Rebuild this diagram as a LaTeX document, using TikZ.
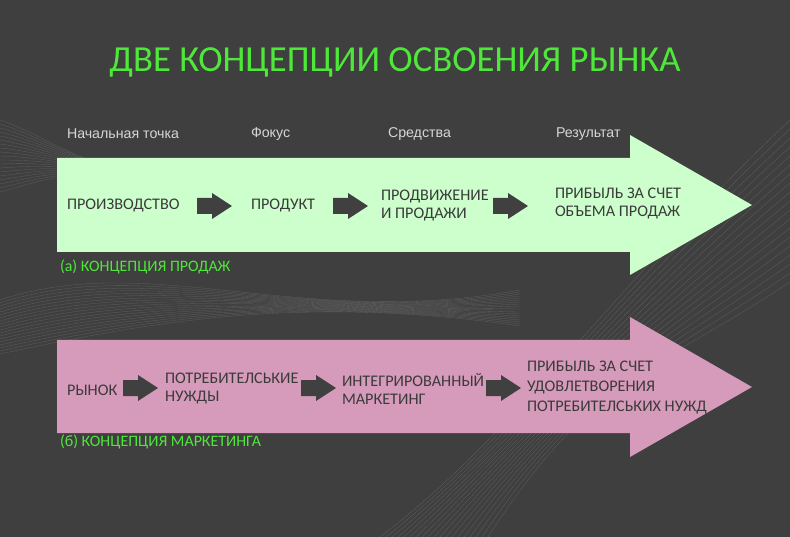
\documentclass[tikz,border=0pt]{standalone}
\usepackage{fontspec}
\setmainfont{Carlito}
\newfontfamily\labfont{Liberation Sans}
\usetikzlibrary{calc}
\definecolor{bgc}{HTML}{3F3F3F}
\definecolor{titleg}{HTML}{4FE83A}
\definecolor{lgreen}{HTML}{CCFFCC}
\definecolor{pinkc}{HTML}{D69BBB}
\definecolor{labgray}{HTML}{D6D6D6}
\definecolor{darkt}{HTML}{3A3A3A}
\definecolor{sarrow}{HTML}{404040}
\begin{document}
\begin{tikzpicture}[x=1pt,y=-1pt,
  inner sep=0pt, outer sep=0pt,
  stage/.style={anchor=west, text=darkt, align=left, font=\fontsize{16.2}{18}\selectfont},
  toplabel/.style={anchor=west, text=labgray, font=\labfont\fontsize{14.2}{16}\selectfont},
  caption/.style={anchor=west, text=titleg, font=\fontsize{15.9}{18}\selectfont},
  smallarrow/.pic={\fill[sarrow] (0,-8) -- (15,-8) -- (15,-13) -- (35,0) -- (15,13) -- (15,8) -- (0,8) -- cycle;},
  deco/.style={draw=gray!55, line width=0.3pt, opacity=0.25}
]
\fill[bgc] (0,0) rectangle (790,537);
\useasboundingbox (0,0) rectangle (790,537);
% faint background waves
\foreach \i in {0,...,18}{
  \draw[deco] (380+\i*6,537) .. controls (520+\i*4,430-\i*3) and (600+\i*3,300+\i*4) .. (790,120+\i*9);
  \draw[deco] (0,300+\i*3) .. controls (150,250+\i*4) and (300,330-\i*2) .. (520,290+\i*2);
  \draw[deco] (0,120+\i*4) .. controls (60,140+\i*2) and (120,200-\i*3) .. (230,160+\i*5);
}
% title
\node[text=titleg, font=\fontsize{36.7}{42}\selectfont] (title) at (395,62) {ДВЕ КОНЦЕПЦИИ ОСВОЕНИЯ РЫНКА};
% top labels
\node[toplabel] (l1) at (67,134) {Начальная точка};
\node[toplabel] (l2) at (251,134) {Фокус};
\node[toplabel] (l3) at (388,134) {Средства};
\node[toplabel] (l4) at (556,134) {Результат};
% big arrows
\fill[lgreen] (57,158) -- (630,158) -- (630,135) -- (752,205) -- (630,275) -- (630,252) -- (57,252) -- cycle;
\fill[pinkc] (57,340) -- (630,340) -- (630,317) -- (752,387) -- (630,457) -- (630,433) -- (57,433) -- cycle;
% row a
\node[stage] (a1) at (67,206) {ПРОИЗВОДСТВО};
\node[stage] (a2) at (251,206) {ПРОДУКТ};
\node[stage] (a3) at (381,206) {ПРОДВИЖЕНИЕ\\И ПРОДАЖИ};
\node[stage] (a4) at (555,204) {ПРИБЫЛЬ ЗА СЧЕТ\\ОБЪЕМА ПРОДАЖ};
\pic at (197,206) {smallarrow};
\pic at (333,206) {smallarrow};
\pic at (493,206) {smallarrow};
\node[caption] (ca) at (60,267) {(а) КОНЦЕПЦИЯ ПРОДАЖ};
% row b
\node[stage] (b1) at (67,390) {РЫНОК};
\node[stage] (b2) at (165,389) {ПОТРЕБИТЕЛСЬКИЕ\\НУЖДЫ};
\node[stage] (b3) at (342,389) {ИНТЕГРИРОВАННЫЙ\\МАРКЕТИНГ};
\node[stage, font=\fontsize{16.2}{20}\selectfont] (b4) at (527,388) {ПРИБЫЛЬ ЗА СЧЕТ\\УДОВЛЕТВОРЕНИЯ\\ПОТРЕБИТЕЛСЬКИХ НУЖД};
\pic at (123,388) {smallarrow};
\pic at (301,388) {smallarrow};
\pic at (486,388) {smallarrow};
\node[caption] (cb) at (60,442) {(б) КОНЦЕПЦИЯ МАРКЕТИНГА};
\end{tikzpicture}
\end{document}
